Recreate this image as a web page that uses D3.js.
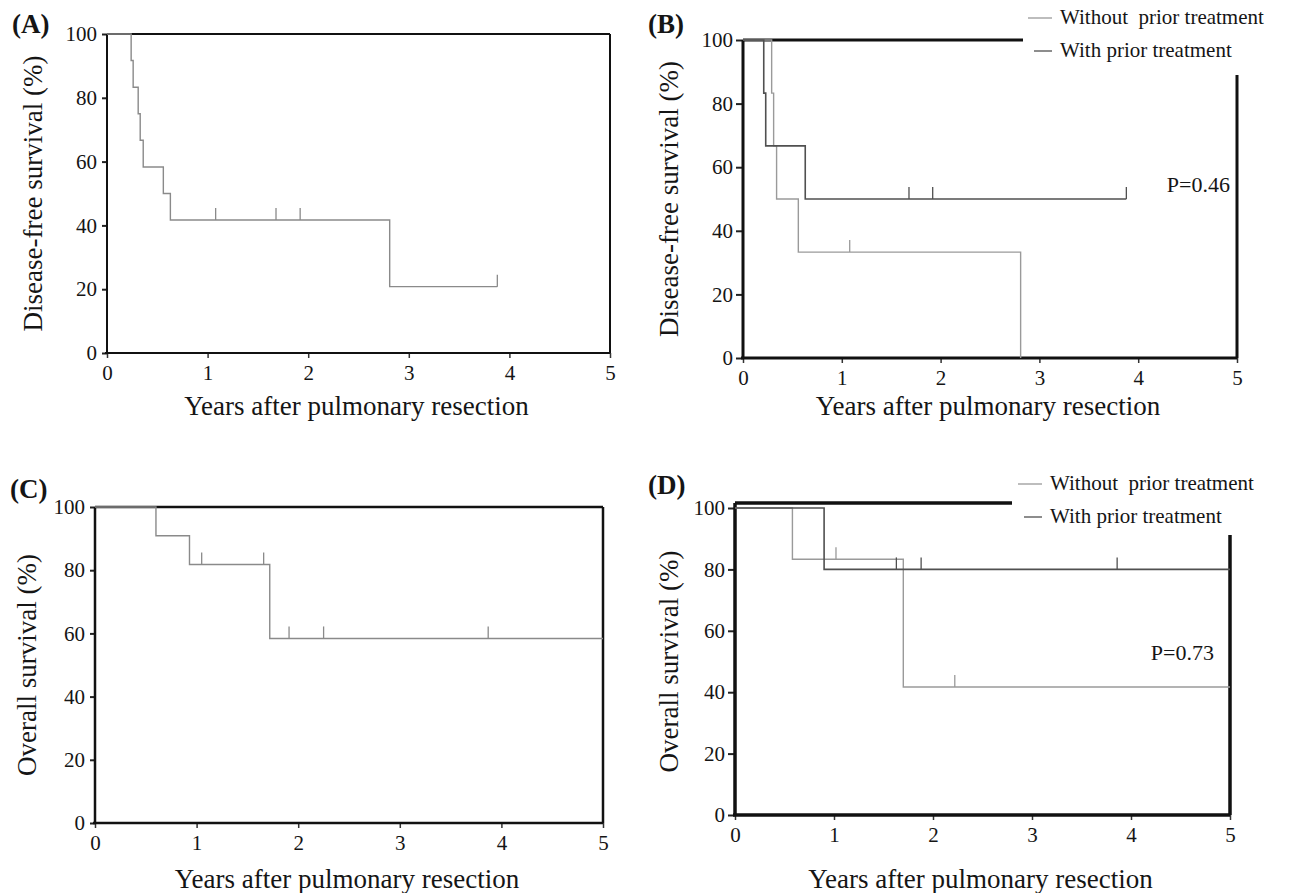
<!DOCTYPE html>
<html>
<head>
<meta charset="utf-8">
<script src="https://cdn.jsdelivr.net/npm/d3@7"></script>
<style>
  body { margin: 0; background: #fff; }
  svg { display: block; }
  text { font-family: "Liberation Serif", "Times New Roman", serif; fill: #151515; }
</style>
</head>
<body>
<svg id="fig" width="1289" height="893"></svg>
<script>
// tick values shared by all four panels
xTicks = [0, 1, 2, 3, 4, 5];
yTicks = [0, 20, 40, 60, 80, 100];

// (A) disease-free survival, all patients
dfsAllTime = [0, 0.24, 0.26, 0.31, 0.33, 0.36, 0.56, 0.63, 2.81, 3.88];
dfsAllSurv = [100, 91.7, 83.3, 75.0, 66.7, 58.3, 50.0, 41.7, 20.8, 20.8];
dfsAllCens = [1.08, 1.68, 1.92, 3.88];

// (B) disease-free survival by prior treatment
dfsNoTime = [0, 0.29, 0.31, 0.34, 0.56, 2.81];
dfsNoSurv = [100, 83.3, 66.7, 50.0, 33.3, 0];
dfsNoCens = [1.08];
dfsPriorTime = [0, 0.21, 0.23, 0.63, 3.88];
dfsPriorSurv = [100, 83.3, 66.7, 50.0, 50.0];
dfsPriorCens = [1.68, 1.92, 3.88];

// (C) overall survival, all patients
osAllTime = [0, 0.60, 0.93, 1.72, 5];
osAllSurv = [100, 90.9, 81.8, 58.4, 58.4];
osAllCens = [1.05, 1.66, 1.91, 2.25, 3.87];

// (D) overall survival by prior treatment
osNoTime = [0, 0.58, 1.70, 5];
osNoSurv = [100, 83.3, 41.7, 41.7];
osNoCens = [1.02, 2.22];
osPriorTime = [0, 0.90, 5];
osPriorSurv = [100, 80.0, 80.0];
osPriorCens = [1.63, 1.88, 3.86];

legendLabels = ['Without  prior treatment', 'With prior treatment'];

svg = d3.select('#fig');

function series(times, surv, cens, color, width) {
  return { pts: times.map((t, i) => [t, surv[i]]), times: times, surv: surv, cens: cens, color: color, width: width };
}

// survival value at time t for a step curve
function survAt(s, t) {
  var v = s.surv[0];
  s.times.forEach(function(tt, i) { if (tt <= t) v = s.surv[i]; });
  return v;
}

function drawPanel(p) {
  var x = d3.scaleLinear().domain([0, 5]).range([p.left, p.right]);
  var y = d3.scaleLinear().domain([0, 100]).range([p.bottom, p.top]);
  var g = svg.append('g');

  // y axis ticks + labels
  var ya = g.append('g')
      .attr('transform', `translate(${p.left},0)`)
      .call(d3.axisLeft(y).tickValues(yTicks).tickSize(p.ytick).tickPadding(p.ypad));
  ya.select('.domain').remove();
  ya.selectAll('line').attr('stroke', '#222').attr('stroke-width', 2);
  ya.selectAll('text').style('font-size', '21px').attr('fill', '#1a1a1a').style('font-family', '"Liberation Serif", serif');

  var xa = g.append('g')
      .attr('transform', `translate(0,${p.bottom})`)
      .call(d3.axisBottom(x).tickValues(xTicks).tickFormat(d3.format('d')).tickSize(5).tickPadding(7));
  xa.select('.domain').remove();
  xa.selectAll('line').attr('stroke', '#333').attr('stroke-width', 1.5);
  xa.selectAll('text').style('font-size', '21px').attr('fill', '#1a1a1a').style('font-family', '"Liberation Serif", serif');

  // frame
  var fw = p.frameWidth;
  var ft = p.frameTop;
  g.append('line').attr('x1', p.left).attr('x2', p.left).attr('y1', ft).attr('y2', p.bottom)
      .attr('stroke', '#111').attr('stroke-width', fw);
  g.append('line').attr('x1', p.left - 2).attr('x2', p.right).attr('y1', p.bottom).attr('y2', p.bottom)
      .attr('stroke', '#111').attr('stroke-width', fw);
  g.append('line').attr('x1', p.left).attr('x2', p.topEnd).attr('y1', ft).attr('y2', ft)
      .attr('stroke', '#111').attr('stroke-width', fw);
  g.append('line').attr('x1', p.right).attr('x2', p.right).attr('y1', p.rightStart).attr('y2', p.bottom)
      .attr('stroke', '#111').attr('stroke-width', fw);

  // curves
  var line = d3.line().curve(d3.curveStepAfter).x(d => x(d[0])).y(d => y(d[1]));
  p.series.forEach(function(s) {
    g.append('path')
        .datum(s.pts)
        .attr('fill', 'none')
        .attr('stroke', s.color)
        .attr('stroke-width', s.width)
        .attr('d', line);
    g.selectAll(null)
        .data(s.cens)
        .enter()
        .append('line')
        .attr('x1', d => x(d)).attr('x2', d => x(d))
        .attr('y1', d => y(survAt(s, d)))
        .attr('y2', d => y(survAt(s, d)) - 12)
        .attr('stroke', s.color)
        .attr('stroke-width', 1.3);
  });

  // panel letter
  g.append('text')
      .attr('x', p.letterX).attr('y', p.letterY)
      .style('font-size', '27px').style('font-weight', 'bold')
      .text(p.letter);

  // axis titles
  g.append('text')
      .attr('transform', `translate(${p.ytitleX},${(p.top + p.bottom) / 2}) rotate(-90)`)
      .attr('text-anchor', 'middle')
      .style('font-size', '27px')
      .text(p.ytitle);
  g.append('text')
      .attr('x', (p.left + p.right) / 2 - 2).attr('y', p.xtitleY)
      .attr('text-anchor', 'middle')
      .style('font-size', '27px')
      .text('Years after pulmonary resection');

  if (p.pval) {
    g.append('text')
        .attr('x', p.pvalX).attr('y', p.pvalY)
        .attr('text-anchor', 'end')
        .style('font-size', '22px')
        .text(p.pval);
  }

  if (p.legendX) {
    p.series.forEach(function(s, i) {
      var ly = p.legendY + i * 33;
      g.append('line')
          .attr('x1', p.legendX + (i ? 6 : 0)).attr('x2', p.legendX + 24)
          .attr('y1', ly - 6).attr('y2', ly - 6)
          .attr('stroke', s.color).attr('stroke-width', 1.3);
      g.append('text')
          .attr('x', p.legendX + 32).attr('y', ly)
          .style('font-size', '21px')
          .attr('xml:space', 'preserve')
          .text(legendLabels[i]);
    });
  }
}

lightGray = '#9a9a9a';
darkGray = '#505050';

drawPanel({
  letter: '(A)', letterX: 12, letterY: 33,
  left: 107, right: 610, top: 34, bottom: 353,
  frameTop: 34, topEnd: 610, rightStart: 34, frameWidth: 2,
  ytick: 5, ypad: 5,
  ytitle: 'Disease-free survival (%)', ytitleX: 42, xtitleY: 415,
  series: [series(dfsAllTime, dfsAllSurv, dfsAllCens, '#8a8a8a', 1.4)]
});

drawPanel({
  letter: '(B)', letterX: 648, letterY: 33,
  left: 743, right: 1237, top: 40, bottom: 358,
  frameTop: 40, topEnd: 1023, rightStart: 75, frameWidth: 3,
  ytick: 7, ypad: 3,
  ytitle: 'Disease-free survival (%)', ytitleX: 678, xtitleY: 415,
  pval: 'P=0.46', pvalX: 1230, pvalY: 192,
  legendX: 1028, legendY: 24,
  series: [series(dfsNoTime, dfsNoSurv, dfsNoCens, lightGray, 1.4),
           series(dfsPriorTime, dfsPriorSurv, dfsPriorCens, darkGray, 1.6)]
});

drawPanel({
  letter: '(C)', letterX: 10, letterY: 498,
  left: 95, right: 603, top: 507, bottom: 823,
  frameTop: 507, topEnd: 603, rightStart: 507, frameWidth: 2.5,
  ytick: 5, ypad: 5,
  ytitle: 'Overall survival (%)', ytitleX: 36, xtitleY: 888,
  series: [series(osAllTime, osAllSurv, osAllCens, '#8a8a8a', 1.4)]
});

drawPanel({
  letter: '(D)', letterX: 648, letterY: 494,
  left: 735, right: 1230, top: 508, bottom: 815,
  frameTop: 503, topEnd: 1012, rightStart: 535, frameWidth: 3.5,
  ytick: 7, ypad: 3,
  ytitle: 'Overall survival (%)', ytitleX: 678, xtitleY: 888,
  pval: 'P=0.73', pvalX: 1214, pvalY: 660,
  legendX: 1018, legendY: 490,
  series: [series(osNoTime, osNoSurv, osNoCens, lightGray, 1.4),
           series(osPriorTime, osPriorSurv, osPriorCens, darkGray, 1.6)]
});
</script>
</body>
</html>
